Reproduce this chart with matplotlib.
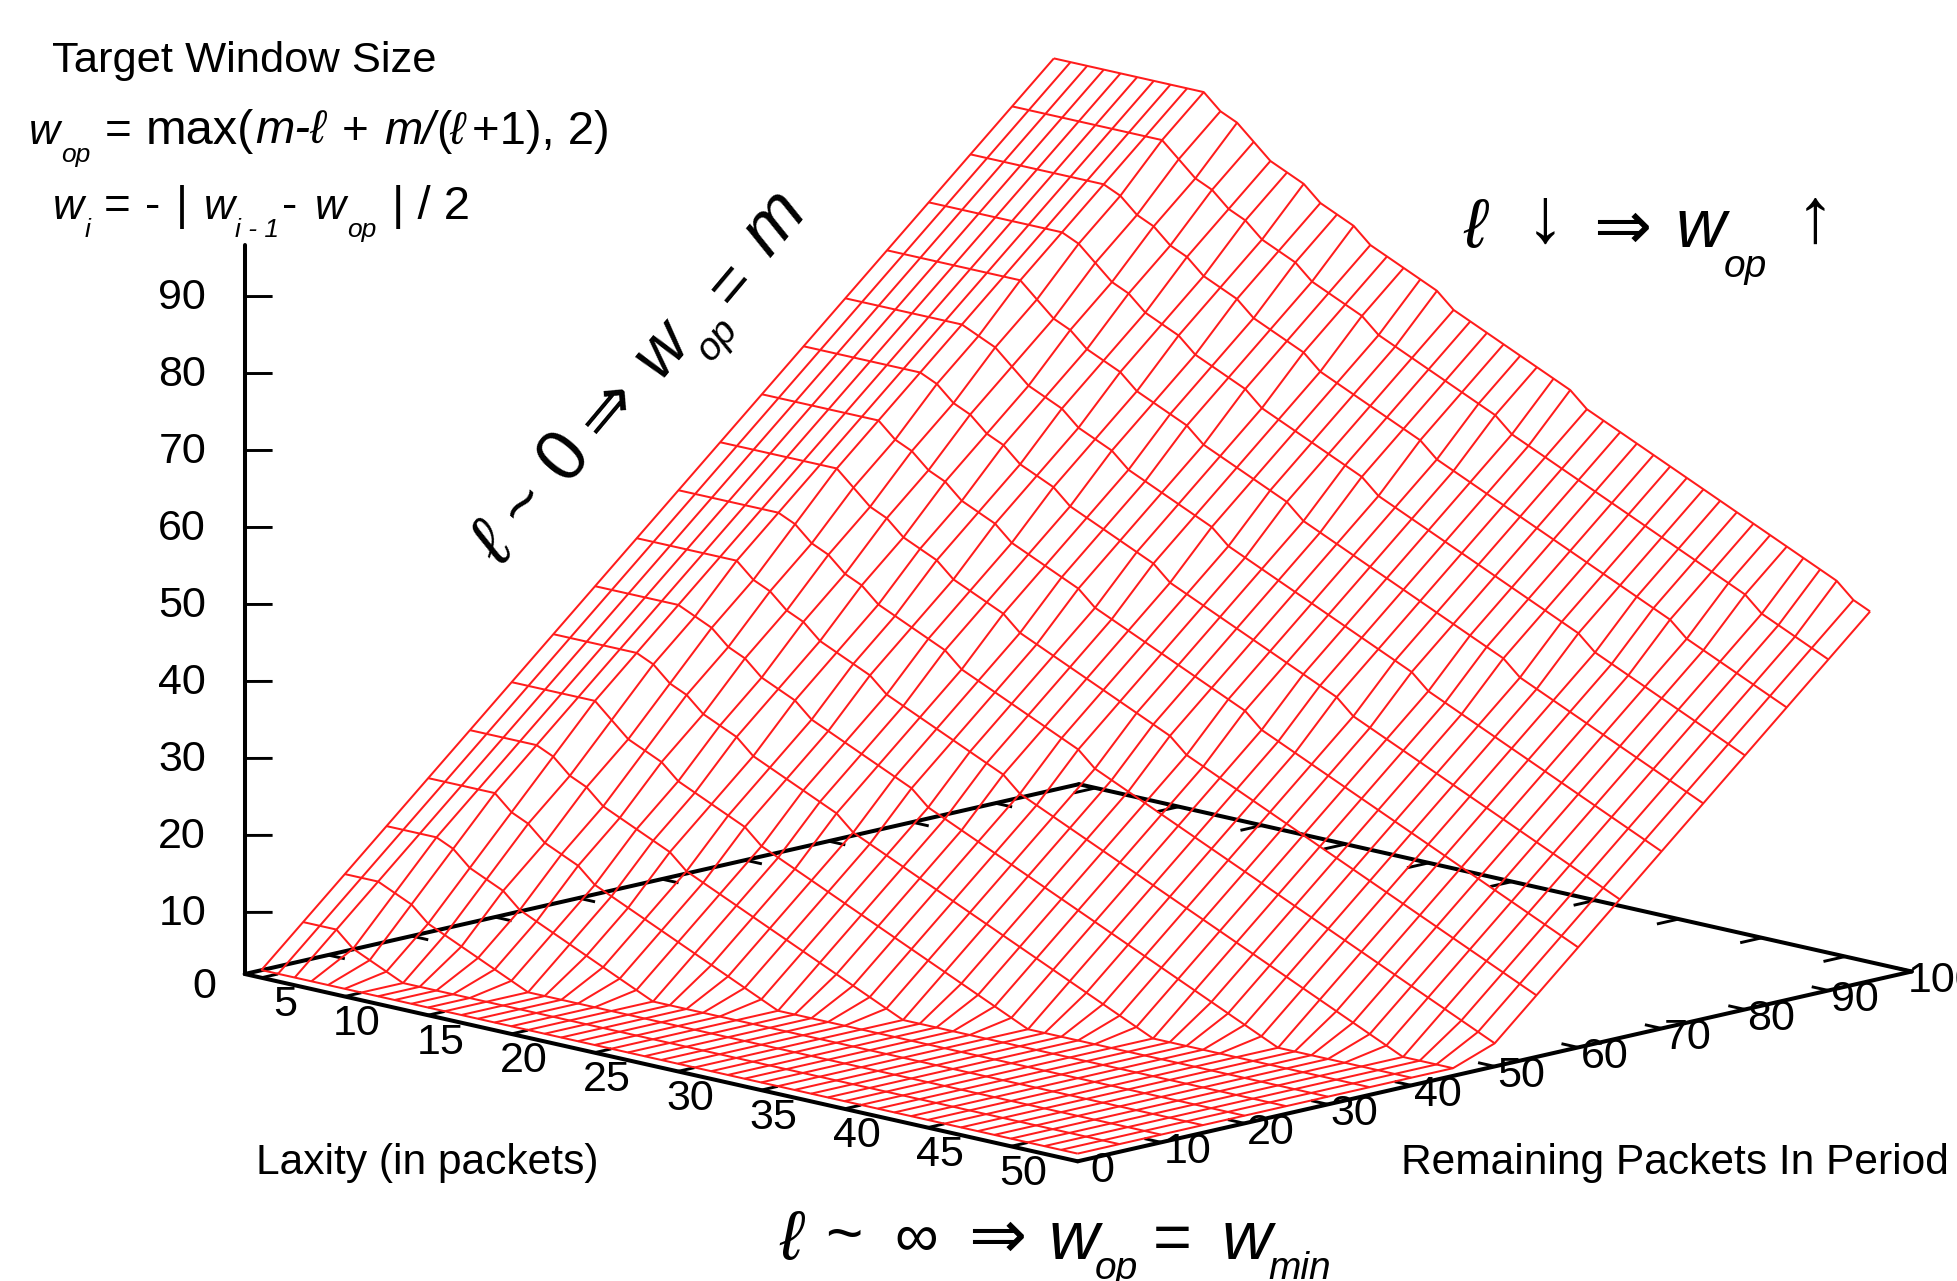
import numpy as np
import matplotlib
matplotlib.use("Agg")
import matplotlib.pyplot as plt
from matplotlib.transforms import Affine2D
from mpl_toolkits.mplot3d.art3d import Line3DCollection

FONT = ["Liberation Sans", "DejaVu Sans"]
plt.rcParams["font.family"] = FONT

# ---------- data ----------
laxity = [5, 6, 7, 8, 9, 10, 11, 12, 13, 14, 15, 16, 17, 18, 19, 20, 21, 22, 23, 24, 25,
          26, 27, 28, 29, 30, 31, 32, 33, 34, 35, 36, 37, 38, 39, 40, 41, 42, 43, 44,
          45, 46, 47, 48, 49, 50, 51, 52, 53, 54]
remaining = [0, 5, 10, 15, 20, 25, 30, 35, 40, 45, 50, 55, 60, 65, 70, 75, 80, 85, 90, 95]

# surface height above the base plane; one row per value of `remaining`
w00 = [1,1,1,1,1,1,1,1,1,1, 1,1,1,1,1,1,1,1,1,1, 1,1,1,1,1,1,1,1,1,1, 1,1,1,1,1,1,1,1,1,1, 1,1,1,1,1,1,1,1,1,1]
w05 = [6,6,6,4,3,2,1,1,1,1, 1,1,1,1,1,1,1,1,1,1, 1,1,1,1,1,1,1,1,1,1, 1,1,1,1,1,1,1,1,1,1, 1,1,1,1,1,1,1,1,1,1]
w10 = [11,11,11,10,9,7,6,5,4,3, 2,1,1,1,1,1,1,1,1,1, 1,1,1,1,1,1,1,1,1,1, 1,1,1,1,1,1,1,1,1,1, 1,1,1,1,1,1,1,1,1,1]
w15 = [16,16,16,16,15,13,12,11,9,8, 7,6,5,4,3,2,1,1,1,1, 1,1,1,1,1,1,1,1,1,1, 1,1,1,1,1,1,1,1,1,1, 1,1,1,1,1,1,1,1,1,1]
w20 = [21,21,21,21,21,19,18,16,15,14, 12,11,10,9,8,7,6,5,4,3, 2,1,1,1,1,1,1,1,1,1, 1,1,1,1,1,1,1,1,1,1, 1,1,1,1,1,1,1,1,1,1]
w25 = [26,26,26,26,26,25,23,22,20,19, 18,17,16,14,13,12,11,10,9,8, 7,6,5,4,3,2,1,1,1,1, 1,1,1,1,1,1,1,1,1,1, 1,1,1,1,1,1,1,1,1,1]
w30 = [31,31,31,31,31,31,29,27,26,25, 23,22,21,20,19,17,16,15,14,13, 12,11,10,9,8,7,6,5,4,3, 2,1,1,1,1,1,1,1,1,1, 1,1,1,1,1,1,1,1,1,1]
w35 = [36,36,36,36,36,36,35,33,32,30, 29,28,26,25,24,23,22,21,19,18, 17,16,15,14,13,12,11,10,9,8, 7,6,5,4,3,2,1,1,1,1, 1,1,1,1,1,1,1,1,1,1]
w40 = [41,41,41,41,41,41,40,39,37,36, 34,33,32,30,29,28,27,26,25,24, 22,21,20,19,18,17,16,15,14,13, 12,11,10,9,8,7,6,5,4,3, 2,1,1,1,1,1,1,1,1,1]
w45 = [46,46,46,46,46,46,46,44,43,41, 40,38,37,36,35,33,32,31,30,29, 28,27,26,24,23,22,21,20,19,18, 17,16,15,14,13,12,11,10,9,8, 7,6,5,4,3,2,1,1,1,1]
w50 = [51,51,51,51,51,51,51,50,48,47, 45,44,42,41,40,39,38,36,35,34, 33,32,31,30,29,27,26,25,24,23, 22,21,20,19,18,17,16,15,14,13, 12,11,10,9,8,7,6,5,4,3]
w55 = [56,56,56,56,56,56,56,56,54,52, 51,49,48,47,45,44,43,42,40,39, 38,37,36,35,34,33,32,31,29,28, 27,26,25,24,23,22,21,20,19,18, 17,16,15,14,13,12,11,10,9,8]
w60 = [61,61,61,61,61,61,61,61,59,58, 56,55,53,52,51,49,48,47,46,45, 43,42,41,40,39,38,37,36,35,34, 32,31,30,29,28,27,26,25,24,23, 22,21,20,19,18,17,16,15,14,13]
w65 = [66,66,66,66,66,66,66,66,65,63, 62,60,59,57,56,55,53,52,51,50, 49,48,46,45,44,43,42,41,40,39, 38,37,36,34,33,32,31,30,29,28, 27,26,25,24,23,22,21,20,19,18]
w70 = [71,71,71,71,71,71,71,71,70,69, 67,65,64,63,61,60,59,57,56,55, 54,53,52,50,49,48,47,46,45,44, 43,42,41,40,39,37,36,35,34,33, 32,31,30,29,28,27,26,25,24,23]
w75 = [76,76,76,76,76,76,76,76,76,74, 72,71,69,68,67,65,64,63,62,60, 59,58,57,56,55,53,52,51,50,49, 48,47,46,45,44,43,42,41,39,38, 37,36,35,34,33,32,31,30,29,28]
w80 = [81,81,81,81,81,81,81,81,81,80, 78,76,75,73,72,71,69,68,67,66, 64,63,62,61,60,59,58,56,55,54, 53,52,51,50,49,48,47,46,45,44, 42,41,40,39,38,37,36,35,34,33]
w85 = [86,86,86,86,86,86,86,86,86,85, 83,82,80,79,77,76,75,73,72,71, 70,68,67,66,65,64,63,62,60,59, 58,57,56,55,54,53,52,51,50,49, 48,47,46,44,43,42,41,40,39,38]
w90 = [91,91,91,91,91,91,91,91,91,91, 89,87,86,84,83,81,80,79,77,76, 75,74,72,71,70,69,68,67,66,65, 63,62,61,60,59,58,57,56,55,54, 53,52,51,50,49,47,46,45,44,43]
w95 = [96,96,96,96,96,96,96,96,96,96, 94,93,91,89,88,87,85,84,83,81, 80,79,78,77,75,74,73,72,71,70, 69,68,66,65,64,63,62,61,60,59, 58,57,56,55,54,53,52,51,49,48]
window = [w00, w05, w10, w15, w20, w25, w30, w35, w40, w45,
          w50, w55, w60, w65, w70, w75, w80, w85, w90, w95]

laxity_ticks = [5, 10, 15, 20, 25, 30, 35, 40, 45, 50]
remaining_ticks = [0, 10, 20, 30, 40, 50, 60, 70, 80, 90, 100]
window_ticks = [0, 10, 20, 30, 40, 50, 60, 70, 80, 90]

# ---------- figure and the 3-D view ----------
W, H = 1958, 1281
S = W / 1568.0          # layout below is measured on the 1568 wide picture
fig = plt.figure(figsize=(W / 100, H / 100), dpi=100, facecolor="white")
ax = fig.add_axes([0, -(W - H) / 2 / H, 1, W / H], projection="3d")
ax.set_axis_off()
ax.computed_zorder = False

X_MIN, X_MAX, Y_MAX, Z_BASE, Z_TOP = 4, 54, 100, 2, 94.7

ORIGIN = (196.0, 780.0)
EX = (13.34, 3.0)       # per unit of laxity
EY = (6.68, -1.52)      # per unit of remaining packets
EZ = (0.0, -6.165)      # per unit of window


def to_page(x, y, z):
    return (ORIGIN[0] + EX[0] * (x - X_MIN) + EY[0] * y + EZ[0] * z,
            ORIGIN[1] + EX[1] * (x - X_MIN) + EY[1] * y + EZ[1] * z)


def custom_proj():
    inv = ax.transData.inverted()

    def disp(p):
        return inv.transform((p[0] * S, H - p[1] * S))

    o3 = np.array(to_page(0, 0, 0))
    o = disp(o3)
    ax_ = disp(o3 + np.array(EX)) - o
    ay_ = disp(o3 + np.array(EY)) - o
    az_ = disp(o3 + np.array(EZ)) - o
    r1 = np.array([ax_[0], ay_[0], az_[0]])
    r2 = np.array([ax_[1], ay_[1], az_[1]])
    r3 = np.cross(r1, r2)
    r3 = r3 / np.linalg.norm(r3) * 0.01
    return np.array([[r1[0], r1[1], r1[2], o[0]],
                     [r2[0], r2[1], r2[2], o[1]],
                     [r3[0], r3[1], r3[2], 0.0],
                     [0.0, 0.0, 0.0, 1.0]])


ax.get_proj = custom_proj

# ---------- text helper (positions in the 1568 wide picture) ----------
T = Affine2D().scale(S).scale(1, -1).translate(0, H)


def put(x, y, s, size, style="normal", **kw):
    kw.setdefault("ha", "left")
    kw.setdefault("va", "baseline")
    fig.text(x, y, s, fontsize=size, style=style, transform=T, color="black", family=FONT, **kw)


# ---------- axes (under the surface) ----------
frame = [[(X_MIN, 0, 0), (X_MAX, 0, 0)], [(X_MAX, 0, 0), (X_MAX, Y_MAX, 0)],
         [(X_MAX, Y_MAX, 0), (X_MIN, Y_MAX, 0)], [(X_MIN, Y_MAX, 0), (X_MIN, 0, 0)],
         [(X_MIN, 0, 0), (X_MIN, 0, Z_TOP)]]
ticks = []
for t in laxity_ticks:
    ticks.append([(t, 0, 0), (t, 2.0, 0)])
    ticks.append([(t, Y_MAX, 0), (t, Y_MAX - 2.6, 0)])
    px, py = to_page(t, 0, 0)
    put(px + 29, py + 22, str(t), 31, ha="right", va="center")
for t in remaining_ticks:
    if t > 0:
        ticks.append([(X_MAX, t, 0), (X_MAX - 1.0, t, 0)])
    if 0 < t < Y_MAX:
        ticks.append([(X_MIN, t, 0), (X_MIN + 1.0, t, 0)])
    px, py = to_page(X_MAX, t, 0)
    dx = {0: 10, 100: -3}.get(t, 2)
    put(px + dx, py + 8, str(t), 31, ha="left", va="center")
for t in window_ticks:
    if t > 0:
        ticks.append([(X_MIN, 0, t - Z_BASE), (X_MIN + 0.835, 1.67, t - Z_BASE)])
    px, py = to_page(X_MIN, 0, t - Z_BASE)
    put(px + (-23 if t == 0 else -31), py + (-2 if t == 0 else 1), str(t), 31, ha="right", va="center")

ax.add_collection3d(Line3DCollection(frame, colors="black", linewidths=2.9,
                                     capstyle="round", zorder=2))
ax.add_collection3d(Line3DCollection(ticks, colors="black", linewidths=2.1, zorder=2))

# ---------- surface ----------
LL, MM = np.meshgrid(laxity, remaining)
ax.plot_wireframe(LL, MM, np.array(window, dtype=float), rstride=1, cstride=1,
                  color="#ff1c1c", linewidth=1.45, zorder=3)

# ---------- annotations ----------
put(42, 58, "Target Window Size", 31.3)
put(205, 940, "Laxity (in packets)", 30.6)
put(1122, 940, "Remaining Packets In Period", 30.6)

# w_op = max(m-l + m/(l+1), 2)
put(23, 115, "w", 31, "italic")
put(49, 130, "op", 19, "italic")
put(84, 115, "=", 33)
put(117, 115, "max(", 35)
put(204, 115, "m-ℓ", 34, "italic")
put(274, 115, "+", 33)
put(308, 115, "m/", 33, "italic")
put(349, 115, "(", 33)
put(360, 115, "ℓ", 33, "italic")
put(378, 115, "+1), 2)", 34)

# w_i = - | w_(i-1) - w_op | / 2
put(42, 175, "w", 31, "italic")
put(68, 190, "i", 19, "italic")
put(83, 175, "=", 33)
put(116, 175, "-", 33)
put(141, 175, "|", 33)
put(163, 175, "w", 31, "italic")
put(188, 190, "i - 1", 19, "italic")
put(226, 175, "-", 33)
put(252, 175, "w", 31, "italic")
put(278, 190, "op", 19, "italic")
put(314, 175, "| / 2", 34)

# top right
put(1172, 198, "ℓ", 50, "italic")
put(1222, 194, "↓", 56)
put(1276, 199, "⇒", 50)
put(1342, 198, "w", 50, "italic")
put(1380, 222, "op", 28, "italic")
put(1438, 194, "↑", 56)

# bottom
put(624, 1008, "ℓ", 50, "italic")
put(661, 1005, "~", 46)
put(716, 1006, "∞", 44)
put(775, 1007, "⇒", 50)
put(840, 1008, "w", 50, "italic")
put(877, 1024, "op", 28, "italic", clip_on=False)
put(923, 1008, "=", 48)
put(978, 1008, "w", 50, "italic")
put(1016, 1024, "min", 28, "italic", clip_on=False)

# rotated text along the left flank of the surface
ROT = dict(ha="center", va="center", rotation=50, rotation_mode="anchor")
put(396, 438, "ℓ", 52, "italic", **ROT)
put(421, 404, "~", 48, **ROT)
put(452, 366, "0", 52, **ROT)
put(487, 328, "⇒", 50, **ROT)
put(530, 280, "w", 50, "italic", **ROT)
put(575, 272, "op", 28, "italic", **ROT)
put(586, 228, "=", 46, **ROT)
put(620, 178, "m", 52, "italic", **ROT)

fig.savefig("out.png", dpi=100, facecolor="white")
